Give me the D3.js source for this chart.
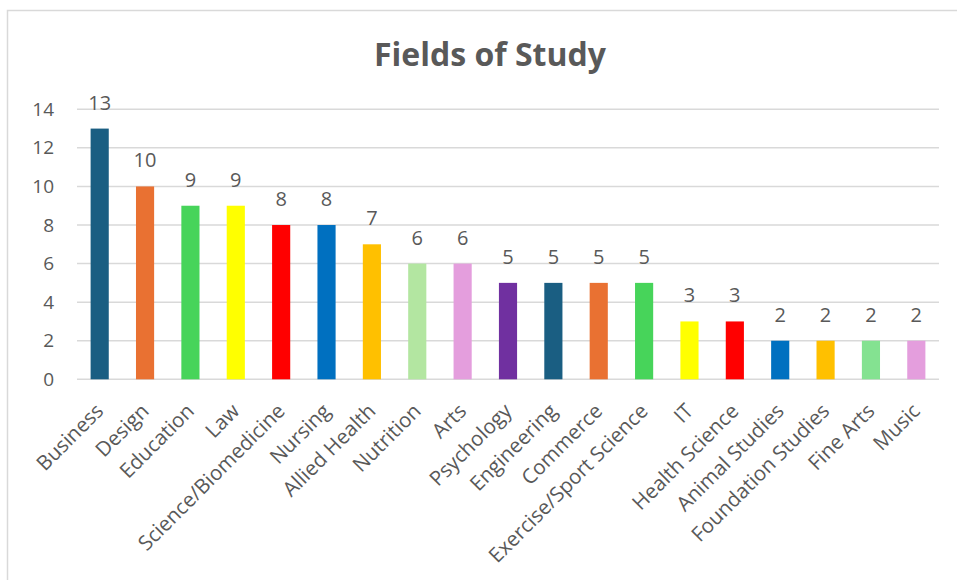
<!DOCTYPE html>
<html>
<head>
<meta charset="utf-8">
<script src="https://cdn.jsdelivr.net/npm/d3@7"></script>
<style>
  html, body { margin: 0; padding: 0; background: #ffffff; }
  svg { display: block; }
</style>
</head>
<body>
<svg id="chart" width="957" height="580"></svg>
<script>
// Number of students per field of study
const fields = [
  "Business", "Design", "Education", "Law", "Science/Biomedicine", "Nursing",
  "Allied Health", "Nutrition", "Arts", "Psychology", "Engineering", "Commerce",
  "Exercise/Sport Science", "IT", "Health Science", "Animal Studies",
  "Foundation Studies", "Fine Arts", "Music"
];
const counts = [13, 10, 9, 9, 8, 8, 7, 6, 6, 5, 5, 5, 5, 3, 3, 2, 2, 2, 2];
const barColors = [
  "#1a5e82", "#e97132", "#47d45a", "#ffff00", "#ff0000", "#0070c0",
  "#ffc000", "#b3e6a1", "#e49edd", "#7030a0", "#1a5e82", "#e97132",
  "#47d45a", "#ffff00", "#ff0000", "#0070c0", "#ffc000", "#84e291", "#e49edd"
];
const yTicks = [0, 2, 4, 6, 8, 10, 12, 14];
const title = "Fields of Study";

const svg = d3.select("#chart");
const W = 957, H = 580;
const plot = { left: 77, right: 939, top: 109.3, bottom: 379.3 };
const textColor = "#595959";
const gridColor = "#d9d9d9";
const font = "'Open Sans', 'Liberation Sans', sans-serif";

// chart frame (left and top edges)
svg.append("path")
  .attr("d", `M7.5,${H} L7.5,10.5 L${W},10.5`)
  .attr("fill", "none")
  .attr("stroke", gridColor)
  .attr("stroke-width", 1.5);

const x = d3.scaleBand()
  .domain(fields)
  .range([plot.left, plot.right])
  .paddingInner(0.6)
  .paddingOuter(0.3);

const y = d3.scaleLinear()
  .domain([0, 14])
  .range([plot.bottom, plot.top]);

// title
svg.append("text")
  .attr("x", 490)
  .attr("y", 66)
  .attr("text-anchor", "middle")
  .attr("font-family", font)
  .attr("font-weight", 700)
  .attr("font-size", 32)
  .attr("fill", textColor)
  .text(title);

// horizontal gridlines
svg.append("g")
  .selectAll("line")
  .data(yTicks)
  .join("line")
  .attr("x1", plot.left)
  .attr("x2", plot.right)
  .attr("y1", d => y(d))
  .attr("y2", d => y(d))
  .attr("stroke", gridColor)
  .attr("stroke-width", 1.5);

// y axis labels
const yAxis = d3.axisLeft(y).tickValues(yTicks).tickSize(0).tickPadding(0);
const yg = svg.append("g")
  .attr("transform", `translate(54,0)`)
  .call(yAxis);
yg.select(".domain").remove();
yg.selectAll("text")
  .attr("font-family", font)
  .attr("font-size", 19)
  .attr("fill", textColor);

// bars
svg.append("g")
  .selectAll("rect")
  .data(fields)
  .join("rect")
  .attr("x", d => x(d))
  .attr("width", x.bandwidth())
  .attr("y", (d, i) => y(counts[i]))
  .attr("height", (d, i) => y(0) - y(counts[i]))
  .attr("fill", (d, i) => barColors[i]);

// value labels above bars
svg.append("g")
  .selectAll("text")
  .data(fields)
  .join("text")
  .attr("x", d => x(d) + x.bandwidth() / 2)
  .attr("y", (d, i) => y(counts[i]) - 19)
  .attr("text-anchor", "middle")
  .attr("font-family", font)
  .attr("font-size", 20)
  .attr("fill", textColor)
  .text((d, i) => counts[i]);

// x axis: category labels rotated 45 degrees
const xAxis = d3.axisBottom(x).tickSize(0).tickPadding(0);
const xg = svg.append("g")
  .attr("transform", `translate(0,${plot.bottom})`)
  .call(xAxis);
xg.select(".domain").remove();
xg.selectAll("text")
  .attr("font-family", font)
  .attr("font-size", 20.5)
  .attr("fill", textColor)
  .attr("text-anchor", "end")
  .attr("dy", null)
  .attr("y", 0)
  .attr("transform", "translate(5,33) rotate(-45)");
</script>
</body>
</html>
